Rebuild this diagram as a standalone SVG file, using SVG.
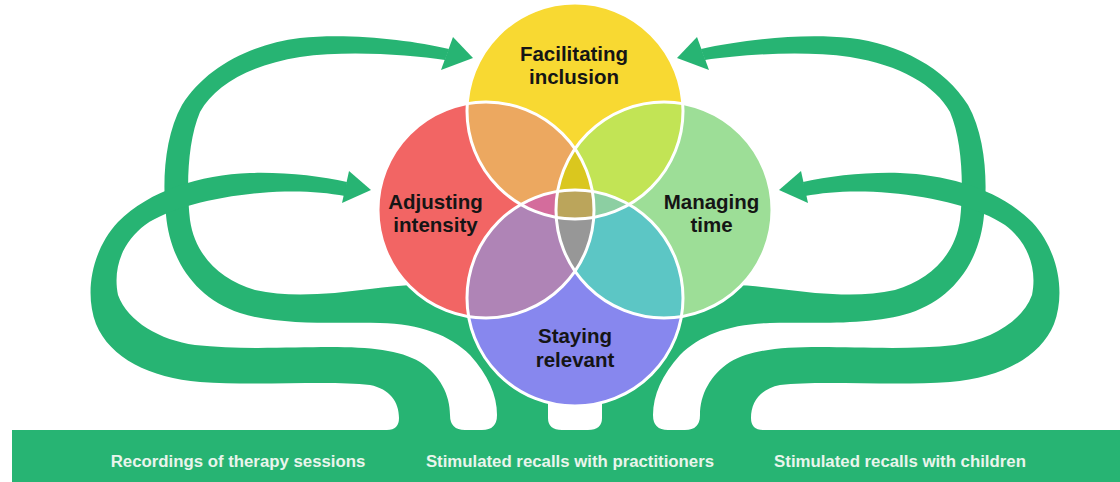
<svg xmlns="http://www.w3.org/2000/svg" xmlns:xlink="http://www.w3.org/1999/xlink" width="1120" height="482" viewBox="0 0 1120 482">
<style>
.g{fill:#27B473}
.lbl{font-family:"Liberation Sans",Arial,sans-serif;font-weight:bold;font-size:20.5px;fill:#151515;text-anchor:middle}
.src{font-family:"Liberation Sans",Arial,sans-serif;font-weight:bold;font-size:16.8px;fill:#E9F5EC;text-anchor:middle}
.ring{fill:none;stroke:#FFFFFF;stroke-width:3}
</style>
<defs>
<clipPath id="cY"><circle cx="575" cy="111" r="108"/></clipPath>
<clipPath id="cR"><circle cx="486" cy="210" r="108"/></clipPath>
<clipPath id="cG"><circle cx="664" cy="210" r="108"/></clipPath>
<clipPath id="cP"><circle cx="575" cy="298" r="108"/></clipPath>
<g id="loopsL">
<path class="g" d="M 449 49 C 410 40, 350 33, 300 38 C 250 44, 205 68, 182 105 C 165 135, 162 180, 166 215 C 170 260, 195 298, 240 313 C 280 326, 340 322, 380 323 C 420 324, 450 335, 470 355 C 488 375, 497 395, 497 415 Q 497 430, 482 430 L 482 445 L 562 445 L 562 430 Q 548 430, 548 418 L 548 380 C 540 330, 500 295, 450 287 C 420 283, 395 286, 370 289 C 330 294, 290 298, 255 290 C 220 280, 195 255, 190 220 C 186 185, 188 140, 200 112 C 215 85, 250 65, 300 57 C 350 50, 410 55, 445 60 Z"/>
<polygon class="g" points="453,37 473,58 441,70"/>
<path class="g" d="M 347 182 C 320 176, 285 172, 250 173 C 200 175, 150 190, 118 222 C 92 250, 84 292, 96 324 C 110 358, 150 378, 200 382 C 260 386, 330 380, 370 385 C 390 389, 399 402, 399 418 Q 399 430, 387 430 L 387 445 L 465 445 L 465 430 Q 450 430, 450 415 C 450 395, 440 375, 420 362 C 400 350, 370 347, 330 347 C 290 347, 240 350, 195 345 C 160 340, 128 322, 118 295 C 112 265, 125 240, 145 225 C 170 208, 215 197, 260 193 C 295 190, 322 192, 345 196 Z"/>
<polygon class="g" points="349,171 371,190 342,203"/>
</g>
</defs>

<g id="connectors">
<use xlink:href="#loopsL" href="#loopsL"/>
<use xlink:href="#loopsL" href="#loopsL" transform="translate(1150,0) scale(-1,1)"/>
</g>

<g id="sources">
<rect class="g" x="12" y="430" width="1108" height="52"/>
<text class="src" x="238" y="467">Recordings of therapy sessions</text>
<text class="src" x="570" y="467">Stimulated recalls with practitioners</text>
<text class="src" x="900" y="467">Stimulated recalls with children</text>
</g>

<g id="venn-regions">
<circle cx="575" cy="111" r="108" fill="#F8D932"/>
<circle cx="486" cy="210" r="108" fill="#F26564"/>
<circle cx="664" cy="210" r="108" fill="#9DDE97"/>
<circle cx="575" cy="298" r="108" fill="#8787EE"/>
<g clip-path="url(#cY)"><circle cx="486" cy="210" r="108" fill="#ECA860"/></g>
<g clip-path="url(#cY)"><circle cx="664" cy="210" r="108" fill="#C2E455"/></g>
<g clip-path="url(#cR)"><circle cx="575" cy="298" r="108" fill="#AF84B6"/></g>
<g clip-path="url(#cG)"><circle cx="575" cy="298" r="108" fill="#5CC6C5"/></g>
<g clip-path="url(#cY)"><g clip-path="url(#cR)"><circle cx="664" cy="210" r="108" fill="#DAC71E"/></g></g>
<g clip-path="url(#cY)"><g clip-path="url(#cR)"><circle cx="575" cy="298" r="108" fill="#D46C9C"/></g></g>
<g clip-path="url(#cY)"><g clip-path="url(#cG)"><circle cx="575" cy="298" r="108" fill="#8CCFA2"/></g></g>
<g clip-path="url(#cR)"><g clip-path="url(#cG)"><circle cx="575" cy="298" r="108" fill="#979797"/></g></g>
<g clip-path="url(#cY)"><g clip-path="url(#cR)"><g clip-path="url(#cG)"><circle cx="575" cy="298" r="108" fill="#BBA55B"/></g></g></g>
</g>

<g id="node-facilitating">
<circle class="ring" cx="575" cy="111" r="108"/>
</g>
<g id="node-adjusting">
<circle class="ring" cx="486" cy="210" r="108"/>
</g>
<g id="node-managing">
<circle class="ring" cx="664" cy="210" r="108"/>
</g>
<g id="node-staying">
<circle class="ring" cx="575" cy="298" r="108"/>
</g>
<g id="labels">
<text class="lbl" x="574" y="61">Facilitating</text>
<text class="lbl" x="574" y="84">inclusion</text>
<text class="lbl" x="435.5" y="209">Adjusting</text>
<text class="lbl" x="435.5" y="232">intensity</text>
<text class="lbl" x="711.5" y="209">Managing</text>
<text class="lbl" x="711.5" y="232">time</text>
<text class="lbl" x="575" y="343">Staying</text>
<text class="lbl" x="575" y="367">relevant</text>
</g>
</svg>
